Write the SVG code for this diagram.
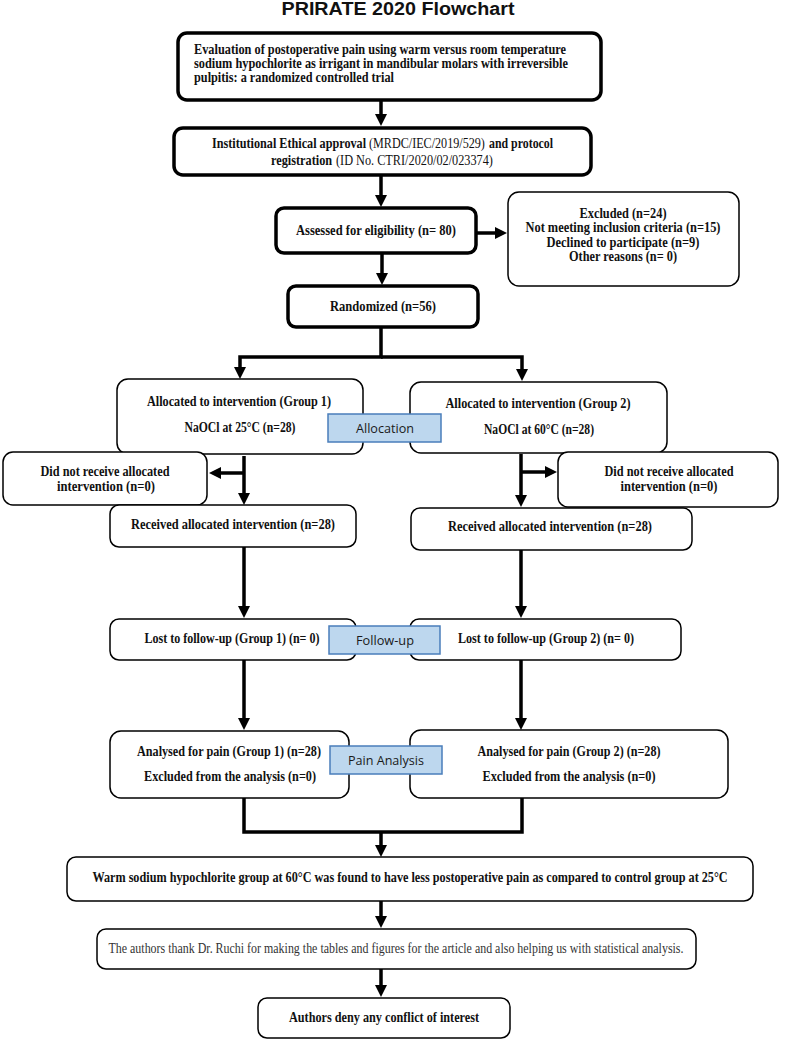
<svg xmlns="http://www.w3.org/2000/svg" width="788" height="1041" viewBox="0 0 788 1041">
<defs>
<style>
.bg{fill:#fff}
.thick{fill:#fff;stroke:#000;stroke-width:3.5}
.thin{fill:#fff;stroke:#000;stroke-width:1.5}
.lab{fill:#bdd7ee;stroke:#4a7ebb;stroke-width:1.5}
.t{font-family:"Liberation Serif","DejaVu Serif",serif;font-size:14px;font-weight:bold;fill:#111}
.n{font-weight:normal}
.tn{font-family:"Liberation Serif","DejaVu Serif",serif;font-size:14px;fill:#333}
.lt{font-family:"Open Sans","Liberation Sans",sans-serif;font-size:13px;fill:#1a1a1a}
.title{font-family:"Liberation Sans",Arial,sans-serif;font-size:18px;font-weight:bold;fill:#111}
.c{fill:none;stroke:#000;stroke-width:3.5}
</style>
<marker id="ah" viewBox="0 0 12 12" refX="3" refY="6" markerWidth="12" markerHeight="12" markerUnits="userSpaceOnUse" orient="auto"><path d="M0,0 L12,6 L0,12 z" fill="#000"/></marker>
</defs>
<rect class="bg" x="0" y="0" width="788" height="1041"/>
<text class="title" x="398" y="15" text-anchor="middle" textLength="233" lengthAdjust="spacingAndGlyphs">PRIRATE 2020 Flowchart</text>

<g id="connectors">
<path class="c" d="M381,100 V117" marker-end="url(#ah)"/>
<path class="c" d="M381,175 V198" marker-end="url(#ah)"/>
<path class="c" d="M476,233 H498" marker-end="url(#ah)"/>
<path class="c" d="M382,253 V276" marker-end="url(#ah)"/>
<path class="c" d="M381,327 V357 H240 V370" marker-end="url(#ah)"/>
<path class="c" d="M381,357 H522 V372" marker-end="url(#ah)"/>
<path class="c" d="M244,456 V496" marker-end="url(#ah)"/>
<path class="c" d="M244,473 H218" marker-end="url(#ah)"/>
<path class="c" d="M521,454 V498" marker-end="url(#ah)"/>
<path class="c" d="M521,472 H548" marker-end="url(#ah)"/>
<path class="c" d="M244,547 V609" marker-end="url(#ah)"/>
<path class="c" d="M521,550 V609" marker-end="url(#ah)"/>
<path class="c" d="M244,660 V721" marker-end="url(#ah)"/>
<path class="c" d="M521,660 V721" marker-end="url(#ah)"/>
<path class="c" d="M244,798 V832 H522 V798"/>
<path class="c" d="M381,832 V848" marker-end="url(#ah)"/>
<path class="c" d="M381,901 V919" marker-end="url(#ah)"/>
<path class="c" d="M381,969 V988" marker-end="url(#ah)"/>
</g>

<g id="title-box">
<rect class="thick" x="178" y="33" width="423" height="67" rx="9"/>
<text class="t" x="194" y="54" textLength="372" lengthAdjust="spacingAndGlyphs">Evaluation of postoperative pain using warm versus room temperature</text>
<text class="t" x="194" y="68" textLength="374" lengthAdjust="spacingAndGlyphs">sodium hypochlorite as irrigant in mandibular molars with irreversible</text>
<text class="t" x="194" y="82" textLength="200" lengthAdjust="spacingAndGlyphs">pulpitis: a randomized controlled trial</text>
</g>

<g id="ethics">
<rect class="thick" x="174" y="128" width="417" height="47" rx="9"/>
<text class="t" transform="translate(212,148) scale(0.72,1)" x="0" y="0" textLength="214" lengthAdjust="spacingAndGlyphs">Institutional Ethical approval</text>
<text class="t n" transform="translate(369,148) scale(0.72,1)" x="0" y="0" textLength="161" lengthAdjust="spacingAndGlyphs">(MRDC/IEC/2019/529)</text>
<text class="t" transform="translate(489,148) scale(0.72,1)" x="0" y="0" textLength="89" lengthAdjust="spacingAndGlyphs">and protocol</text>
<text class="t" transform="translate(271,165) scale(0.72,1)" x="0" y="0" textLength="85" lengthAdjust="spacingAndGlyphs">registration</text>
<text class="t n" transform="translate(336,165) scale(0.72,1)" x="0" y="0" textLength="218" lengthAdjust="spacingAndGlyphs">(ID No. CTRI/2020/02/023374)</text>
</g>

<g id="assessed">
<rect class="thick" x="276" y="208" width="200" height="45" rx="8"/>
<text class="t" x="376" y="235" text-anchor="middle" textLength="160" lengthAdjust="spacingAndGlyphs">Assessed for eligibility (n= 80)</text>
</g>

<g id="excluded">
<rect class="thin" x="508" y="192" width="231" height="94" rx="11"/>
<text class="t" x="623" y="218" text-anchor="middle" textLength="87" lengthAdjust="spacingAndGlyphs">Excluded (n=24)</text>
<text class="t" x="623" y="232" text-anchor="middle" textLength="195" lengthAdjust="spacingAndGlyphs">Not meeting inclusion criteria (n=15)</text>
<text class="t" x="623" y="247" text-anchor="middle" textLength="153" lengthAdjust="spacingAndGlyphs">Declined to participate (n=9)</text>
<text class="t" x="623" y="261" text-anchor="middle" textLength="108" lengthAdjust="spacingAndGlyphs">Other reasons (n= 0)</text>
</g>

<g id="randomized">
<rect class="thick" x="288" y="286" width="190" height="41" rx="8"/>
<text class="t" x="383" y="311" text-anchor="middle" textLength="106" lengthAdjust="spacingAndGlyphs">Randomized (n=56)</text>
</g>

<g id="alloc1">
<rect class="thin" x="117" y="379" width="246" height="75" rx="11"/>
<text class="t" x="239" y="406" text-anchor="middle" textLength="184" lengthAdjust="spacingAndGlyphs">Allocated to intervention (Group 1)</text>
<text class="t" x="240" y="432" text-anchor="middle" textLength="111" lengthAdjust="spacingAndGlyphs">NaOCl at 25°C (n=28)</text>
</g>

<g id="alloc2">
<rect class="thin" x="410" y="382" width="257" height="71" rx="11"/>
<text class="t" x="538" y="408" text-anchor="middle" textLength="185" lengthAdjust="spacingAndGlyphs">Allocated to intervention (Group 2)</text>
<text class="t" x="539" y="434" text-anchor="middle" textLength="110" lengthAdjust="spacingAndGlyphs">NaOCl at 60°C (n=28)</text>
</g>

<g id="allocation-label">
<rect class="lab" x="328" y="414" width="113" height="28"/>
<text class="lt" x="385" y="433" text-anchor="middle" textLength="58" lengthAdjust="spacingAndGlyphs">Allocation</text>
</g>

<g id="notrec1">
<rect class="thin" x="3" y="452" width="204" height="53" rx="10"/>
<text class="t" x="105" y="476" text-anchor="middle" textLength="129" lengthAdjust="spacingAndGlyphs">Did not receive allocated</text>
<text class="t" x="106" y="491" text-anchor="middle" textLength="98" lengthAdjust="spacingAndGlyphs">intervention (n=0)</text>
</g>

<g id="notrec2">
<rect class="thin" x="558" y="452" width="220" height="55" rx="10"/>
<text class="t" x="669" y="476" text-anchor="middle" textLength="129" lengthAdjust="spacingAndGlyphs">Did not receive allocated</text>
<text class="t" x="669" y="491" text-anchor="middle" textLength="97" lengthAdjust="spacingAndGlyphs">intervention (n=0)</text>
</g>

<g id="received1">
<rect class="thin" x="110" y="505" width="246" height="42" rx="9"/>
<text class="t" x="233" y="529" text-anchor="middle" textLength="204" lengthAdjust="spacingAndGlyphs">Received allocated intervention (n=28)</text>
</g>

<g id="received2">
<rect class="thin" x="411" y="508" width="281" height="42" rx="9"/>
<text class="t" x="550" y="531" text-anchor="middle" textLength="204" lengthAdjust="spacingAndGlyphs">Received allocated intervention (n=28)</text>
</g>

<g id="lost1">
<rect class="thin" x="110" y="619" width="246" height="41" rx="9"/>
<text class="t" x="232" y="643" text-anchor="middle" textLength="175" lengthAdjust="spacingAndGlyphs">Lost to follow-up (Group 1) (n= 0)</text>
</g>

<g id="lost2">
<rect class="thin" x="410" y="619" width="271" height="41" rx="9"/>
<text class="t" x="546" y="643" text-anchor="middle" textLength="176" lengthAdjust="spacingAndGlyphs">Lost to follow-up (Group 2) (n= 0)</text>
</g>

<g id="followup-label">
<rect class="lab" x="329" y="626" width="111" height="28"/>
<text class="lt" x="385" y="645" text-anchor="middle" textLength="58" lengthAdjust="spacingAndGlyphs">Follow-up</text>
</g>

<g id="analysed1">
<rect class="thin" x="110" y="731" width="239" height="67" rx="11"/>
<text class="t" x="229" y="756" text-anchor="middle" textLength="184" lengthAdjust="spacingAndGlyphs">Analysed for pain (Group 1) (n=28)</text>
<text class="t" x="230" y="781" text-anchor="middle" textLength="172" lengthAdjust="spacingAndGlyphs">Excluded from the analysis (n=0)</text>
</g>

<g id="analysed2">
<rect class="thin" x="410" y="730" width="318" height="68" rx="11"/>
<text class="t" x="569" y="756" text-anchor="middle" textLength="183" lengthAdjust="spacingAndGlyphs">Analysed for pain (Group 2) (n=28)</text>
<text class="t" x="569" y="781" text-anchor="middle" textLength="173" lengthAdjust="spacingAndGlyphs">Excluded from the analysis (n=0)</text>
</g>

<g id="pain-label">
<rect class="lab" x="330" y="746" width="112" height="28"/>
<text class="lt" x="386" y="765" text-anchor="middle" textLength="76" lengthAdjust="spacingAndGlyphs">Pain Analysis</text>
</g>

<g id="result">
<rect class="thin" x="67" y="857" width="686" height="44" rx="9"/>
<text class="t" transform="translate(410,882) scale(0.75,1)" x="0" y="0" text-anchor="middle" textLength="847" lengthAdjust="spacingAndGlyphs">Warm sodium hypochlorite group at 60°C was found to have less postoperative pain as compared to control group at 25°C</text>
</g>

<g id="thanks">
<rect class="thin" x="97" y="929" width="599" height="40" rx="9"/>
<text class="tn" x="396" y="953" text-anchor="middle" textLength="575" lengthAdjust="spacingAndGlyphs">The authors thank Dr. Ruchi for making the tables and figures for the article and also helping us with statistical analysis.</text>
</g>

<g id="coi">
<rect class="thin" x="258" y="998" width="252" height="40" rx="9"/>
<text class="t" x="384" y="1022" text-anchor="middle" textLength="190" lengthAdjust="spacingAndGlyphs">Authors deny any conflict of interest</text>
</g>
</svg>
